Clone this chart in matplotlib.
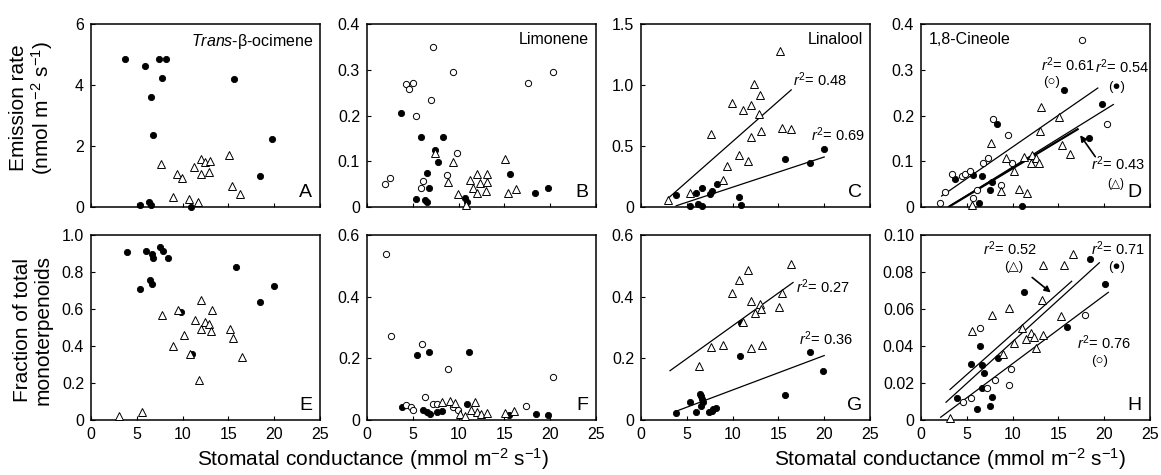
import matplotlib
matplotlib.use("Agg")
import matplotlib.pyplot as plt

plt.rcParams['font.family'] = ['Liberation Sans', 'DejaVu Sans']
plt.rcParams['mathtext.fontset'] = 'custom'
plt.rcParams['mathtext.rm'] = 'Liberation Sans'
plt.rcParams['mathtext.it'] = 'Liberation Sans:italic'

# ---- data (x = stomatal conductance) ----
# A: trans-beta-ocimene emission
a_fill_x = [3.7, 5.9, 7.4, 8.2, 7.7, 6.5, 6.8, 15.6, 19.8, 18.4, 5.3, 6.3, 6.6, 10.9]
a_fill_y = [4.85, 4.62, 4.86, 4.86, 4.22, 3.6, 2.36, 4.2, 2.22, 1.03, 0.05, 0.17, 0.05, 0.0]
a_tri_x = [7.6, 9.4, 9.9, 11.2, 12.0, 12.4, 13.0, 12.0, 12.9, 15.1, 15.4, 16.3, 8.9, 10.7, 11.7]
a_tri_y = [1.41, 1.08, 0.94, 1.32, 1.56, 1.46, 1.5, 1.07, 1.16, 1.72, 0.69, 0.42, 0.33, 0.25, 0.16]

# B: limonene emission
b_fill_x = [3.7, 5.9, 8.26, 7.46, 7.75, 6.6, 6.8, 5.35, 6.3, 6.6, 10.7, 10.95, 15.6, 18.3, 19.8]
b_fill_y = [0.205, 0.153, 0.153, 0.124, 0.098, 0.074, 0.042, 0.017, 0.015, 0.012, 0.019, 0.011, 0.073, 0.030, 0.042]
b_open_x = [2.0, 2.5, 4.3, 4.55, 5.0, 7.2, 9.4, 7.0, 5.3, 9.86, 8.7, 6.15, 5.9, 17.6, 20.3]
b_open_y = [0.050, 0.063, 0.269, 0.259, 0.272, 0.349, 0.295, 0.234, 0.200, 0.119, 0.071, 0.056, 0.041, 0.272, 0.295]
b_tri_x = [7.46, 9.4, 8.8, 9.97, 10.8, 11.2, 11.97, 13.07, 11.6, 12.3, 13.07, 11.97, 13.0, 15.1, 15.4, 16.3]
b_tri_y = [0.118, 0.098, 0.055, 0.028, 0.005, 0.060, 0.072, 0.072, 0.041, 0.052, 0.054, 0.030, 0.036, 0.104, 0.030, 0.039]

# C: linalool emission
c_fill_x = [3.84, 5.3, 6.0, 6.65, 6.25, 6.65, 7.5, 7.75, 8.26, 10.75, 10.97, 15.68, 18.5, 19.96]
c_fill_y = [0.099, 0.008, 0.115, 0.159, 0.022, 0.008, 0.104, 0.131, 0.186, 0.080, 0.02, 0.395, 0.36, 0.478]
c_tri_x = [3.0, 5.4, 7.6, 9.95, 11.15, 12.0, 12.36, 13.0, 12.9, 15.2, 15.4, 16.4, 13.05, 12.0, 10.7, 11.7, 9.4, 8.9]
c_tri_y = [0.055, 0.115, 0.598, 0.850, 0.795, 0.838, 1.005, 0.92, 0.763, 1.275, 0.65, 0.636, 0.619, 0.57, 0.425, 0.376, 0.34, 0.219]
c_fit_tri = ([3.0, 16.4], [0.074, 0.96])
c_fit_fill = ([3.84, 20.0], [0.01, 0.41])

# D: 1,8-cineole emission
d_fill_x = [3.7, 5.7, 6.35, 7.5, 7.8, 8.3, 11.0, 15.6, 18.3, 19.75, 6.68]
d_fill_y = [0.061, 0.069, 0.009, 0.037, 0.054, 0.181, 0.002, 0.255, 0.151, 0.225, 0.067]
d_open_x = [2.07, 2.6, 3.4, 4.43, 4.8, 5.34, 6.07, 5.7, 7.26, 6.8, 7.9, 8.7, 9.5, 9.9, 17.6, 20.3]
d_open_y = [0.009, 0.033, 0.072, 0.068, 0.072, 0.078, 0.038, 0.02, 0.108, 0.097, 0.192, 0.047, 0.157, 0.097, 0.366, 0.181]
d_tri_x = [5.6, 7.6, 8.7, 9.3, 10.1, 10.7, 11.6, 11.2, 12.0, 12.1, 12.5, 12.85, 13.0, 13.1, 15.1, 15.35, 16.3]
d_tri_y = [0.005, 0.14, 0.036, 0.107, 0.078, 0.039, 0.031, 0.110, 0.097, 0.114, 0.108, 0.097, 0.167, 0.218, 0.197, 0.136, 0.116]
d_fit_open = ([2.25, 19.3], [0.024, 0.26])
d_fit_fill = ([2.97, 21.0], [0.0, 0.224])
d_fit_tri = ([3.16, 17.1], [0.002, 0.17])

# E: trans-beta-ocimene fraction
e_fill_x = [3.9, 6.0, 6.65, 6.8, 7.5, 7.9, 8.4, 6.4, 6.7, 5.4, 9.8, 11.0, 15.8, 18.5, 20.0]
e_fill_y = [0.91, 0.915, 0.90, 0.875, 0.934, 0.915, 0.875, 0.758, 0.737, 0.706, 0.582, 0.355, 0.826, 0.636, 0.726]
e_tri_x = [3.07, 5.56, 7.7, 9.5, 10.1, 8.9, 10.8, 11.3, 12.06, 12.06, 12.4, 12.9, 13.16, 13.05, 15.2, 15.46, 16.45, 11.84]
e_tri_y = [0.023, 0.041, 0.57, 0.597, 0.462, 0.40, 0.355, 0.543, 0.65, 0.493, 0.528, 0.521, 0.597, 0.48, 0.493, 0.445, 0.339, 0.215]

# F: limonene fraction
f_fill_x = [3.8, 5.45, 6.76, 11.1, 10.9, 6.08, 6.5, 6.9, 7.6, 8.15, 15.5, 18.5, 19.8]
f_fill_y = [0.041, 0.212, 0.222, 0.22, 0.052, 0.033, 0.025, 0.02, 0.025, 0.028, 0.017, 0.02, 0.017]
f_open_x = [2.04, 2.6, 6.04, 8.84, 20.3, 6.33, 17.4, 4.26, 4.77, 5.06, 7.24, 7.6, 9.4, 9.97]
f_open_y = [0.537, 0.271, 0.247, 0.165, 0.139, 0.076, 0.047, 0.050, 0.043, 0.033, 0.052, 0.052, 0.041, 0.033]
f_tri_x = [8.15, 9.06, 9.6, 10.15, 10.7, 11.8, 11.4, 12.05, 12.4, 13.1, 15.07, 16.05]
f_tri_y = [0.058, 0.063, 0.054, 0.02, 0.012, 0.057, 0.033, 0.025, 0.02, 0.022, 0.022, 0.03]

# G: linalool fraction
g_fill_x = [3.8, 5.35, 6.0, 6.4, 6.6, 6.7, 6.8, 6.5, 7.4, 7.7, 7.9, 8.2, 10.9, 10.8, 15.75, 18.45, 19.9]
g_fill_y = [0.022, 0.057, 0.025, 0.085, 0.078, 0.068, 0.058, 0.045, 0.025, 0.030, 0.035, 0.040, 0.316, 0.207, 0.081, 0.22, 0.158]
g_tri_x = [6.37, 7.6, 8.9, 9.97, 10.7, 11.7, 11.17, 12.0, 12.45, 13.0, 13.05, 12.0, 13.2, 15.1, 15.4, 16.4]
g_tri_y = [0.175, 0.236, 0.242, 0.412, 0.454, 0.486, 0.318, 0.386, 0.347, 0.376, 0.36, 0.234, 0.242, 0.365, 0.412, 0.506]
g_fit_tri = ([3.17, 16.6], [0.16, 0.446])
g_fit_fill = ([3.7, 20.0], [0.027, 0.209])

# H: 1,8-cineole fraction
h_fill_x = [3.9, 5.5, 6.44, 6.7, 6.9, 6.65, 6.15, 7.5, 7.8, 8.45, 11.2, 15.9, 18.5, 20.1]
h_fill_y = [0.012, 0.0305, 0.040, 0.0298, 0.0253, 0.0174, 0.0062, 0.0078, 0.0124, 0.0334, 0.0694, 0.0505, 0.0872, 0.0733]
h_open_x = [6.45, 4.6, 5.46, 7.25, 8.1, 9.6, 9.8, 17.9]
h_open_y = [0.0497, 0.010, 0.0117, 0.0174, 0.0216, 0.0187, 0.0274, 0.057]
h_tri_x = [3.17, 5.6, 7.8, 9.6, 10.2, 11.0, 11.5, 12.05, 12.3, 12.5, 13.3, 13.2, 13.35, 15.3, 15.6, 16.6, 8.99]
h_tri_y = [0.001, 0.048, 0.057, 0.0608, 0.0416, 0.050, 0.044, 0.047, 0.045, 0.0388, 0.0461, 0.065, 0.084, 0.056, 0.084, 0.090, 0.0356]
h_fit_tri = ([3.17, 16.45], [0.0165, 0.075])
h_fit_fill = ([2.73, 19.47], [0.0096, 0.085])
h_fit_open = ([2.15, 20.45], [0.0015, 0.069])

# axis ticks
x_ticks = [0, 5, 10, 15, 20, 25]
a_yticks, a_ylabels = [0, 2, 4, 6], ['0', '2', '4', '6']
b_yticks, b_ylabels = [0, 0.1, 0.2, 0.3, 0.4], ['0', '0.1', '0.2', '0.3', '0.4']
c_yticks, c_ylabels = [0, 0.5, 1.0, 1.5], ['0', '0.5', '1.0', '1.5']
e_yticks, e_ylabels = [0, 0.2, 0.4, 0.6, 0.8, 1.0], ['0', '0.2', '0.4', '0.6', '0.8', '1.0']
f_yticks, f_ylabels = [0, 0.2, 0.4, 0.6], ['0', '0.2', '0.4', '0.6']
h_yticks, h_ylabels = [0, 0.02, 0.04, 0.06, 0.08, 0.10], ['0', '0.02', '0.04', '0.06', '0.08', '0.10']

W, H = 1161, 475
fig = plt.figure(figsize=(W / 100, H / 100), dpi=100)

lefts = [91, 367, 641, 921]
pw = 229
rows = [(24, 207), (235, 420)]


def make_ax(col, row):
    top, bot = rows[row]
    ax = fig.add_axes([lefts[col] / W, 1 - bot / H, pw / W, (bot - top) / H])
    ax.set_xlim(0, 25)
    ax.set_xticks(x_ticks)
    ax.tick_params(direction='in', length=3, width=0.8, labelsize=11.5, pad=5)
    if row == 0:
        ax.tick_params(labelbottom=False)
    for s in ax.spines.values():
        s.set_linewidth(1.1)
    return ax


def dots(ax, fx=None, fy=None, ox=None, oy=None, tx=None, ty=None):
    if fx is not None:
        ax.plot(fx, fy, 'o', ms=4.5, mfc='black', mec='black', mew=0.6, ls='none', zorder=3, clip_on=False)
    if ox is not None:
        ax.plot(ox, oy, 'o', ms=4.5, mfc='white', mec='black', mew=0.7, ls='none', zorder=3, clip_on=False)
    if tx is not None:
        ax.plot(tx, ty, '^', ms=5.2, mfc='white', mec='black', mew=0.7, ls='none', zorder=4, clip_on=False)


def fit(ax, line, lw=0.9):
    ax.plot(line[0], line[1], color='black', lw=lw, zorder=2)


def corner(ax, letter):
    ax.text(0.965, 0.035, letter, transform=ax.transAxes, ha='right', va='bottom', fontsize=14)


tsize = 11.5
rsize = 10.5

# A
ax = make_ax(0, 0)
ax.set_ylim(0, 6)
ax.set_yticks(a_yticks, a_ylabels)
dots(ax, a_fill_x, a_fill_y, tx=a_tri_x, ty=a_tri_y)
ax.text(0.97, 0.955, r'$\it{Trans}$-β-ocimene', transform=ax.transAxes, ha='right', va='top', fontsize=tsize)
corner(ax, 'A')

# B
ax = make_ax(1, 0)
ax.set_ylim(0, 0.4)
ax.set_yticks(b_yticks, b_ylabels)
dots(ax, b_fill_x, b_fill_y, b_open_x, b_open_y, b_tri_x, b_tri_y)
ax.text(0.97, 0.955, 'Limonene', transform=ax.transAxes, ha='right', va='top', fontsize=tsize)
corner(ax, 'B')

# C
ax = make_ax(2, 0)
ax.set_ylim(0, 1.5)
ax.set_yticks(c_yticks, c_ylabels)
fit(ax, c_fit_tri)
fit(ax, c_fit_fill)
dots(ax, c_fill_x, c_fill_y, tx=c_tri_x, ty=c_tri_y)
ax.text(0.97, 0.955, 'Linalool', transform=ax.transAxes, ha='right', va='top', fontsize=tsize)
ax.text(16.6, 1.04, r'$r^2$= 0.48', ha='left', va='center', fontsize=rsize)
ax.text(18.6, 0.59, r'$r^2$= 0.69', ha='left', va='center', fontsize=rsize)
corner(ax, 'C')

# D
ax = make_ax(3, 0)
ax.set_ylim(0, 0.4)
ax.set_yticks(b_yticks, b_ylabels)
fit(ax, d_fit_open)
fit(ax, d_fit_fill)
fit(ax, d_fit_tri, lw=1.6)
dots(ax, d_fill_x, d_fill_y, d_open_x, d_open_y, d_tri_x, d_tri_y)
ax.text(0.035, 0.955, '1,8-Cineole', transform=ax.transAxes, ha='left', va='top', fontsize=tsize)
ax.text(13.1, 0.31, r'$r^2$= 0.61', ha='left', va='center', fontsize=rsize)
ax.text(14.2, 0.274, '(○)', ha='center', va='center', fontsize=rsize - 1)
ax.text(18.95, 0.306, r'$r^2$= 0.54', ha='left', va='center', fontsize=rsize)
ax.text(21.3, 0.262, '(●)', ha='center', va='center', fontsize=rsize - 1)
ax.text(18.6, 0.094, r'$r^2$= 0.43', ha='left', va='center', fontsize=rsize)
ax.text(21.3, 0.05, '(△)', ha='center', va='center', fontsize=rsize - 2)
ax.annotate('', xy=(17.2, 0.162), xytext=(19.2, 0.105),
            arrowprops=dict(arrowstyle='-|>', color='black', lw=1.2, mutation_scale=9))
corner(ax, 'D')

# E
ax = make_ax(0, 1)
ax.set_ylim(0, 1.0)
ax.set_yticks(e_yticks, e_ylabels)
dots(ax, e_fill_x, e_fill_y, tx=e_tri_x, ty=e_tri_y)
corner(ax, 'E')

# F
ax = make_ax(1, 1)
ax.set_ylim(0, 0.6)
ax.set_yticks(f_yticks, f_ylabels)
dots(ax, f_fill_x, f_fill_y, f_open_x, f_open_y, f_tri_x, f_tri_y)
corner(ax, 'F')

# G
ax = make_ax(2, 1)
ax.set_ylim(0, 0.6)
ax.set_yticks(f_yticks, f_ylabels)
fit(ax, g_fit_tri)
fit(ax, g_fit_fill)
dots(ax, g_fill_x, g_fill_y, tx=g_tri_x, ty=g_tri_y)
ax.text(16.9, 0.432, r'$r^2$= 0.27', ha='left', va='center', fontsize=rsize)
ax.text(17.3, 0.264, r'$r^2$= 0.36', ha='left', va='center', fontsize=rsize)
corner(ax, 'G')

# H
ax = make_ax(3, 1)
ax.set_ylim(0, 0.10)
ax.set_yticks(h_yticks, h_ylabels)
fit(ax, h_fit_tri)
fit(ax, h_fit_fill)
fit(ax, h_fit_open)
dots(ax, h_fill_x, h_fill_y, h_open_x, h_open_y, h_tri_x, h_tri_y)
ax.text(6.8, 0.0925, r'$r^2$= 0.52', ha='left', va='center', fontsize=rsize)
ax.text(10.1, 0.0825, '(△)', ha='center', va='center', fontsize=rsize - 1)
ax.annotate('', xy=(14.4, 0.068), xytext=(11.9, 0.078),
            arrowprops=dict(arrowstyle='-|>', color='black', lw=1.2, mutation_scale=9))
ax.text(18.6, 0.0928, r'$r^2$= 0.71', ha='left', va='center', fontsize=rsize)
ax.text(21.4, 0.0827, '(●)', ha='center', va='center', fontsize=rsize - 1)
ax.text(17.0, 0.0416, r'$r^2$= 0.76', ha='left', va='center', fontsize=rsize)
ax.text(19.5, 0.032, '(○)', ha='center', va='center', fontsize=rsize - 1)
corner(ax, 'H')

# shared labels
fig.text(32 / W, 1 - 108 / H, 'Emission rate\n(nmol m$^{-2}$ s$^{-1}$)', rotation=90,
         ha='center', va='center', multialignment='center', fontsize=15, linespacing=1.1)
fig.text(33 / W, 1 - 330 / H, 'Fraction of total\nmonoterpenoids', rotation=90,
         ha='center', va='center', multialignment='center', fontsize=15, linespacing=1.1)
xl = 'Stomatal conductance (mmol m$^{-2}$ s$^{-1}$)'
fig.text(373 / W, 1 - 459 / H, xl, ha='center', va='center', fontsize=15)
fig.text(950 / W, 1 - 459 / H, xl, ha='center', va='center', fontsize=15)

fig.savefig('out.png', dpi=100)
